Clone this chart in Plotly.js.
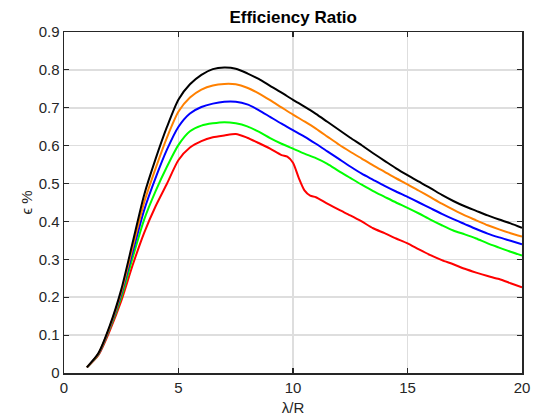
<!DOCTYPE html>
<html>
<head>
<meta charset="utf-8">
<script src="https://cdn.plot.ly/plotly-3.0.1.min.js"></script>
<style>html,body{margin:0;padding:0;background:#fff;}#chart{width:533px;height:416px;}</style>
</head>
<body>
<div id="chart"></div>
<script>
var lambda = [1,1.5,2,2.5,3,3.5,4,4.5,5,5.5,6,6.5,7,7.5,8,8.5,9,9.5,10,10.5,11,11.5,12,12.5,13,13.5,14,14.5,15,15.5,16,16.5,17,17.5,18,18.5,19,19.5,20];
var effBlack  = [0.015,0.052,0.125,0.22,0.345,0.47,0.565,0.65,0.722,0.762,0.787,0.802,0.806,0.803,0.791,0.776,0.758,0.74,0.721,0.703,0.684,0.663,0.642,0.621,0.601,0.58,0.56,0.54,0.522,0.505,0.488,0.47,0.454,0.44,0.428,0.416,0.405,0.395,0.383];
var effOrange = [0.015,0.051,0.122,0.213,0.332,0.45,0.54,0.622,0.69,0.727,0.748,0.759,0.763,0.762,0.753,0.738,0.72,0.701,0.682,0.664,0.645,0.624,0.603,0.584,0.566,0.548,0.531,0.514,0.498,0.481,0.464,0.447,0.431,0.416,0.403,0.39,0.379,0.369,0.36];
var effBlue   = [0.015,0.05,0.12,0.208,0.32,0.43,0.515,0.59,0.65,0.685,0.702,0.711,0.716,0.716,0.709,0.694,0.676,0.658,0.641,0.624,0.605,0.585,0.565,0.545,0.526,0.51,0.494,0.479,0.465,0.45,0.435,0.42,0.406,0.393,0.38,0.368,0.358,0.349,0.34];
var effGreen  = [0.015,0.049,0.117,0.2,0.305,0.405,0.48,0.545,0.602,0.638,0.653,0.659,0.662,0.659,0.651,0.637,0.62,0.605,0.592,0.579,0.567,0.552,0.533,0.515,0.497,0.48,0.465,0.45,0.436,0.421,0.405,0.39,0.376,0.366,0.355,0.342,0.331,0.32,0.31];
var lambdaRed = [1,1.5,2,2.5,3,3.5,4,4.5,5,5.5,6,6.5,7,7.5,8,8.5,9,9.5,9.75,10,10.25,10.5,10.75,11,11.5,12,12.5,13,13.5,14,14.5,15,15.5,16,16.5,17,17.5,18,18.5,19,19.5,20];
var effRed    = [0.015,0.047,0.112,0.19,0.285,0.37,0.44,0.5,0.562,0.595,0.612,0.622,0.627,0.631,0.621,0.607,0.592,0.575,0.571,0.555,0.515,0.482,0.468,0.464,0.447,0.431,0.416,0.40,0.382,0.369,0.355,0.342,0.326,0.311,0.298,0.287,0.275,0.265,0.256,0.248,0.237,0.226];
var xTicks = [0,5,10,15,20];
var yTicks = [0,0.1,0.2,0.3,0.4,0.5,0.6,0.7,0.8,0.9];

var font = 'Arial, "Liberation Sans", sans-serif';
function tr(x, y, c){ return {x:x, y:y, mode:'lines', line:{color:c, width:2, shape:'spline', smoothing:0.7}, hoverinfo:'skip', showlegend:false}; }
var data = [
  tr(lambdaRed, effRed, '#ff0000'),
  tr(lambda, effGreen, '#00ff00'),
  tr(lambda, effBlue, '#0000ff'),
  tr(lambda, effOrange, '#ff8000'),
  tr(lambda, effBlack, '#000000')
];
var axisCommon = {
  showline:true, mirror:'ticks', linecolor:'#262626', linewidth:1.5,
  ticks:'inside', ticklen:5, tickwidth:1.2, tickcolor:'#262626',
  showgrid:true, gridcolor:'#dedede', gridwidth:1.5, zeroline:false,
  tickfont:{family:font, size:15, color:'#262626'}
};
var layout = {
  width:533, height:416,
  margin:{l:64, r:11, t:32, b:43},
  paper_bgcolor:'#ffffff', plot_bgcolor:'#ffffff',
  title:{text:'<b>Efficiency Ratio</b>', font:{family:font, size:17, color:'#000000'}, x:0.55, xanchor:'center', y:0.96, yanchor:'middle', yref:'container', xref:'container'},
  xaxis:Object.assign({}, axisCommon, {range:[0,20], tickvals:xTicks, ticktext:xTicks.map(String),
    title:{text:'λ/R', font:{family:font, size:15, color:'#262626'}, standoff:12}}),
  yaxis:Object.assign({}, axisCommon, {range:[0,0.9], tickvals:yTicks, ticktext:yTicks.map(function(v){return v===0?'0':v.toFixed(1);}),
    title:{text:'ϵ %', font:{family:font, size:15, color:'#262626'}, standoff:2}})
};
Plotly.newPlot('chart', data, layout, {staticPlot:true, displayModeBar:false});
</script>
</body>
</html>
